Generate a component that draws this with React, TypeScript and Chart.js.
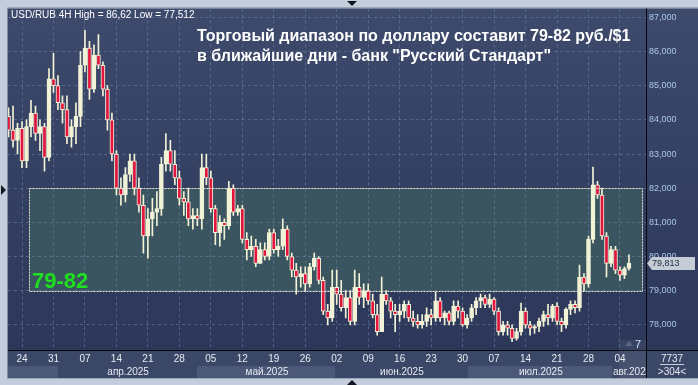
import React, { useEffect, useRef } from 'react';
import { Chart, registerables } from 'chart.js';

Chart.register(...registerables);

// ---- data (one candle per calendar day, day 0 = 24 Mar 2025) ----
const START_DAY = -3;
const OPEN = [
  84.1, 83.7, 83.4, 83.75, 82.8, 83.8, 84.2, 83.6, 83.8, 82.9,
  85.2, 85.0, 84.5, 84.3, 83.5, 83.8, 84.1, 85.6, 86.1, 84.9,
  85.9, 85.6, 84.9, 84.0, 83.0, 82.0, 81.8, 82.4, 82.8, 82.0,
  81.5, 80.6, 81.1, 81.3, 81.4, 82.7, 83.1, 82.7, 82.3, 81.7,
  81.6, 81.1, 81.2, 81.1, 82.6, 82.3, 81.4, 80.7, 81.0, 80.9,
  82.0, 81.3, 81.4, 80.5, 80.2, 80.3, 79.8, 80.2, 80.0, 80.7,
  80.2, 80.3, 80.8, 80.0, 79.6, 79.4, 79.5, 79.2, 79.7, 79.95,
  79.3, 78.4, 78.2, 79.1, 78.9, 78.5, 78.8, 78.1, 79.1, 78.8,
  79.0, 78.7, 78.3, 77.8, 78.9, 78.7, 78.4, 78.3, 78.4, 78.6,
  78.2, 78.1, 78.0, 78.1, 78.3, 78.2, 78.7, 78.2, 78.35, 78.1,
  78.55, 78.4, 78.0, 78.2, 78.5, 78.7, 78.8, 78.6, 78.75, 78.4,
  77.8, 78.0, 77.9, 77.6, 77.8, 78.4, 78.0, 77.9, 77.95, 78.1,
  78.3, 78.2, 78.55, 78.1, 78.0, 78.45, 78.6, 78.5, 79.4, 79.2,
  80.5, 82.1, 81.8, 80.6, 79.8, 80.2, 79.6, 79.45, 79.65,
];
const HIGH = [
  84.35, 84.4, 83.9, 83.95, 84.0, 84.57, 84.4, 84.0, 83.9, 85.5,
  85.95, 85.3, 84.7, 84.7, 84.0, 84.5, 86.0, 86.62, 86.3, 86.2,
  86.5, 85.7, 85.0, 84.2, 83.1, 82.3, 82.6, 83.0, 83.0, 82.3,
  81.8, 81.4, 81.7, 81.9, 82.9, 83.6, 83.4, 83.1, 82.5, 81.9,
  82.0, 81.4, 81.4, 83.0, 83.0, 82.5, 81.5, 81.2, 81.1, 82.2,
  82.1, 81.5, 81.5, 80.7, 80.6, 80.5, 80.4, 80.4, 80.8, 80.8,
  80.5, 81.1, 80.9, 80.1, 79.8, 79.7, 79.7, 79.8, 80.1, 80.0,
  79.4, 78.6, 79.6, 79.6, 79.3, 79.0, 79.0, 79.6, 79.5, 79.2,
  79.2, 78.9, 78.6, 79.4, 79.0, 78.8, 78.6, 78.6, 78.7, 78.7,
  78.4, 78.3, 78.3, 78.5, 78.45, 78.96, 78.8, 78.4, 78.4, 78.7,
  78.7, 78.5, 78.3, 78.6, 78.8, 78.9, 78.87, 78.9, 78.8, 78.5,
  78.1, 78.1, 78.0, 77.9, 78.64, 78.5, 78.1, 78.0, 78.2, 78.4,
  78.6, 78.6, 78.65, 78.2, 78.5, 78.7, 78.7, 79.75, 79.5, 80.6,
  82.62, 82.2, 82.0, 80.7, 80.3, 80.3, 79.7, 79.7, 80.05,
];
const LOW = [
  83.5, 83.2, 83.0, 82.6, 82.6, 83.5, 83.4, 83.1, 82.5, 82.8,
  84.8, 84.3, 83.9, 83.3, 83.2, 83.3, 83.8, 85.4, 84.6, 84.8,
  85.5, 84.7, 83.7, 82.8, 81.8, 81.5, 81.6, 82.2, 81.8, 81.3,
  80.1, 79.95, 80.6, 80.9, 81.2, 82.5, 82.5, 82.1, 81.5, 81.2,
  80.9, 80.8, 80.9, 80.8, 82.1, 81.3, 80.35, 80.3, 80.5, 80.8,
  81.2, 81.2, 80.4, 79.9, 80.0, 79.7, 79.8, 79.9, 79.9, 80.1,
  80.0, 80.2, 79.9, 79.4, 78.9, 79.1, 79.0, 79.1, 79.6, 79.2,
  78.3, 78.0, 78.1, 78.6, 78.4, 78.2, 78.0, 78.0, 78.6, 78.5,
  78.6, 78.2, 77.7, 77.8, 78.6, 78.2, 77.8, 78.1, 78.2, 78.1,
  77.95, 77.9, 77.9, 77.95, 78.0, 78.1, 78.1, 78.0, 78.0, 78.0,
  78.2, 77.95, 77.9, 78.1, 78.3, 78.5, 78.5, 78.5, 78.3, 77.7,
  77.7, 77.7, 77.51, 77.55, 77.7, 77.9, 77.7, 77.75, 77.8, 77.95,
  78.0, 78.1, 78.0, 77.8, 77.9, 78.3, 78.35, 78.4, 79.0, 79.1,
  80.4, 81.7, 80.5, 79.4, 79.7, 79.5, 79.3, 79.35, 79.6,
];
const CLOSE = [
  83.7, 83.4, 83.75, 82.8, 83.8, 84.2, 83.6, 83.8, 82.9, 85.2,
  85.0, 84.5, 84.3, 83.5, 83.8, 84.1, 85.6, 86.1, 84.9, 85.9,
  85.6, 84.9, 84.0, 83.0, 82.0, 81.8, 82.4, 82.8, 82.0, 81.5,
  80.6, 81.1, 81.3, 81.4, 82.7, 83.1, 82.7, 82.3, 81.7, 81.6,
  81.1, 81.2, 81.1, 82.6, 82.3, 81.4, 80.7, 81.0, 80.9, 82.0,
  81.3, 81.4, 80.5, 80.2, 80.3, 79.8, 80.2, 80.0, 80.7, 80.2,
  80.3, 80.8, 80.0, 79.6, 79.4, 79.5, 79.2, 79.7, 79.95, 79.3,
  78.4, 78.2, 79.1, 78.9, 78.5, 78.8, 78.1, 79.1, 78.8, 79.0,
  78.7, 78.3, 77.8, 78.9, 78.7, 78.4, 78.3, 78.4, 78.6, 78.2,
  78.1, 78.0, 78.1, 78.3, 78.2, 78.7, 78.2, 78.35, 78.1, 78.55,
  78.4, 78.0, 78.2, 78.5, 78.7, 78.8, 78.6, 78.75, 78.4, 77.8,
  78.0, 77.9, 77.6, 77.8, 78.4, 78.0, 77.9, 77.95, 78.1, 78.3,
  78.2, 78.55, 78.1, 78.0, 78.45, 78.6, 78.5, 79.4, 79.2, 80.5,
  82.1, 81.8, 80.6, 79.8, 80.2, 79.6, 79.45, 79.65, 79.81,
];

const WEEK_DAYS = [0, 7, 14, 21, 28, 35, 42, 49, 56, 63, 70, 77, 84, 91, 98, 105, 112, 119, 126, 133];
const WEEK_LABELS = ['24', '31', '07', '14', '21', '28', '05', '12', '19', '26', '02', '09', '16', '23', '30', '07', '14', '21', '28', '04'];
const MONTH_BOUNDS = [-3.2, 8, 38.9, 69.6, 99.2, 131.2, 139];
const MONTH_LABEL_DAYS = [23.6, 54.5, 84.5, 115.4, 135.7];
const MONTH_LABELS = ['апр.2025', 'май.2025', 'июн.2025', 'июл.2025', 'авг.2025'];
const Y_TICKS = [78, 79, 80, 81, 82, 83, 84, 85, 86, 87];

const X_MIN = -3.114;
const X_MAX = 138.79;
const Y_MIN = 77.263;
const Y_MAX = 87.263;

const RANGE_LOW = 79;
const RANGE_HIGH = 82;
const RANGE_FROM = 1.56;
const RANGE_TO = 137.9;
const LAST_PRICE = 79.813;

const INFO_TEXT = 'USD/RUB 4H High = 86,62 Low = 77,512';
const TITLE_1 = 'Торговый диапазон по доллару составит 79-82 руб./$1';
const TITLE_2 = 'в ближайшие дни - банк "Русский Стандарт"';
const RANGE_TEXT = '79-82';
const CELL_TOP = '7737';
const CELL_BOTTOM = '>304<';

const FONT = "'Liberation Sans', Arial, sans-serif";
const CREAM = '#f2f2d6';
const RED = '#e3143f';
const FRAME = '#c3cddb';
const PANEL = '#3b4766';
const GRID = 'rgba(112,132,172,0.55)';

export default function App() {
  const ref = useRef<HTMLCanvasElement>(null);

  useEffect(() => {
    document.body.style.margin = '0';
    const canvas = ref.current!;
    const candles = OPEN.map((o, i) => ({ x: START_DAY + i, o, h: HIGH[i], l: LOW[i], c: CLOSE[i] }));
    const wickData = candles.map((k) => ({ x: k.x, y: [k.l, k.h] }));
    const bodyData = candles.map((k) => ({ x: k.x, y: [k.o, k.c] }));
    const bodyColors = candles.map((k) => (k.c < k.o ? RED : CREAM));

    const boxRect = (chart: any) => {
      const xs = chart.scales.x;
      const ys = chart.scales.y;
      const l = Math.round(xs.getPixelForValue(RANGE_FROM)) + 0.5;
      const r = Math.round(xs.getPixelForValue(RANGE_TO)) + 0.5;
      const t = Math.round(ys.getPixelForValue(RANGE_HIGH)) + 0.5;
      const b = Math.round(ys.getPixelForValue(RANGE_LOW)) + 0.5;
      return { l, r, t, b };
    };

    const deco = {
      id: 'deco',
      beforeDraw(chart: any) {
        const { ctx, chartArea: a, width, height } = chart;
        const x2 = chart.scales.x2;
        ctx.save();
        ctx.fillStyle = FRAME;
        ctx.fillRect(0, 0, width, height);
        const g = ctx.createLinearGradient(0, a.top, 0, a.bottom);
        g.addColorStop(0, '#3d4a6b');
        g.addColorStop(1, '#2c375a');
        ctx.fillStyle = g;
        ctx.fillRect(a.left, a.top, width - a.left, a.bottom - a.top);
        ctx.fillStyle = PANEL;
        ctx.fillRect(a.left, a.bottom, width - a.left, x2.bottom - a.bottom);
        for (let i = 0; i < MONTH_BOUNDS.length - 1; i++) {
          const l = Math.max(a.left, Math.round(x2.getPixelForValue(MONTH_BOUNDS[i])));
          const r = Math.min(a.right, Math.round(x2.getPixelForValue(MONTH_BOUNDS[i + 1])));
          ctx.fillStyle = i % 2 === 0 ? '#4b5877' : PANEL;
          ctx.fillRect(l, x2.top + 1, r - l, x2.bottom - x2.top - 1);
        }
        const bx = boxRect(chart);
        ctx.fillStyle = '#3a5560';
        ctx.fillRect(bx.l, bx.t, bx.r - bx.l, bx.b - bx.t);
        ctx.restore();
      },
      afterDatasetsDraw(chart: any) {
        const { ctx } = chart;
        const bx = boxRect(chart);
        ctx.save();
        ctx.strokeStyle = '#e8e8d2';
        ctx.lineWidth = 1;
        ctx.setLineDash([2, 1]);
        ctx.strokeRect(bx.l, bx.t, bx.r - bx.l, bx.b - bx.t);
        ctx.restore();
      },
      afterDraw(chart: any) {
        const { ctx, chartArea: a, width } = chart;
        const ys = chart.scales.y;
        const x2 = chart.scales.x2;
        ctx.save();
        // bottom-right cell
        ctx.fillStyle = PANEL;
        ctx.fillRect(a.right + 1, a.bottom, width - a.right, x2.bottom - a.bottom);
        ctx.strokeStyle = '#05070d';
        ctx.lineWidth = 1;
        ctx.beginPath();
        ctx.moveTo(a.right + 0.5, a.top);
        ctx.lineTo(a.right + 0.5, x2.bottom);
        ctx.moveTo(a.left, a.bottom + 0.5);
        ctx.lineTo(width, a.bottom + 0.5);
        ctx.stroke();
        ctx.fillStyle = '#e4e8f0';
        ctx.font = `10px ${FONT}`;
        ctx.textAlign = 'center';
        ctx.textBaseline = 'alphabetic';
        const cx = (a.right + width) / 2;
        ctx.fillText(CELL_TOP, cx, a.bottom + 12);
        ctx.fillText(CELL_BOTTOM, cx, a.bottom + 25);
        ctx.strokeStyle = '#c8cedb';
        ctx.beginPath();
        ctx.moveTo(cx - 12, a.bottom + 14.5);
        ctx.lineTo(cx + 12, a.bottom + 14.5);
        ctx.stroke();

        // frame lines
        ctx.strokeStyle = '#7f8ca3';
        ctx.beginPath();
        ctx.moveTo(a.left - 0.5, x2.bottom);
        ctx.lineTo(a.left - 0.5, a.top - 0.5);
        ctx.lineTo(width, a.top - 0.5);
        ctx.stroke();
        ctx.strokeStyle = '#9aa6b9';
        ctx.beginPath();
        ctx.moveTo(a.left - 1, x2.bottom + 0.5);
        ctx.lineTo(width, x2.bottom + 0.5);
        ctx.stroke();

        // frame markers
        ctx.fillStyle = '#111622';
        const tri = (pts: number[][]) => {
          ctx.beginPath();
          ctx.moveTo(pts[0][0], pts[0][1]);
          for (let i = 1; i < pts.length; i++) ctx.lineTo(pts[i][0], pts[i][1]);
          ctx.closePath();
          ctx.fill();
        };
        tri([[347, 1], [357, 1], [352, 6]]);
        tri([[1, 185], [1, 195], [6, 190]]);
        tri([[347, 385], [357, 385], [352, 380]]);

        // price tag
        const py = Math.round(ys.getPixelForValue(LAST_PRICE)) + 0.5;
        ctx.fillStyle = '#c6ccd6';
        ctx.beginPath();
        ctx.moveTo(a.right + 1, py);
        ctx.lineTo(a.right + 6, py - 6.5);
        ctx.lineTo(width - 3, py - 6.5);
        ctx.lineTo(width - 3, py + 6.5);
        ctx.lineTo(a.right + 6, py + 6.5);
        ctx.closePath();
        ctx.fill();
        ctx.fillStyle = '#1e2a44';
        ctx.font = `9px ${FONT}`;
        ctx.textAlign = 'left';
        ctx.textBaseline = 'middle';
        ctx.fillText(LAST_PRICE.toFixed(3).replace('.', ','), a.right + 6, py + 0.5);

        // texts
        ctx.textBaseline = 'alphabetic';
        ctx.fillStyle = '#ffffff';
        ctx.font = `10px ${FONT}`;
        ctx.fillText(INFO_TEXT, a.left + 3, 18);
        ctx.font = `bold 16px ${FONT}`;
        ctx.fillText(TITLE_1, 197, 41);
        ctx.fillText(TITLE_2, 197, 61);
        ctx.fillStyle = '#1fe01f';
        ctx.font = `bold 22px ${FONT}`;
        ctx.fillText(RANGE_TEXT, 32, 288);

        // current bar marker
        ctx.fillStyle = 'rgba(255,255,255,0.06)';
        ctx.fillRect(619, a.bottom - 10, a.right - 619, x2.bottom - a.bottom + 10);
        ctx.fillStyle = '#5a6580';
        tri([[625, 346], [633, 346], [629, 341]]);
        ctx.fillStyle = '#cfe0ff';
        ctx.font = `11px ${FONT}`;
        ctx.fillText('7', 635, 348);
        ctx.restore();
      },
    };

    const chart = new Chart(canvas, {
      type: 'bar',
      data: {
        datasets: [
          {
            data: wickData as any,
            backgroundColor: CREAM,
            barThickness: 1,
            grouped: false,
            order: 2,
          },
          {
            data: bodyData as any,
            backgroundColor: bodyColors,
            borderColor: CREAM,
            borderWidth: 1,
            borderSkipped: false,
            barThickness: 4,
            minBarLength: 1,
            grouped: false,
            order: 1,
          },
        ],
      },
      options: {
        responsive: false,
        animation: false,
        layout: { padding: { left: 8, top: 8, right: 0, bottom: 7 } },
        plugins: { legend: { display: false }, tooltip: { enabled: false } },
        scales: {
          x: {
            type: 'linear',
            position: 'bottom',
            offset: false,
            min: X_MIN,
            max: X_MAX,
            weight: 0,
            afterBuildTicks: (s: any) => {
              s.ticks = WEEK_DAYS.map((v) => ({ value: v }));
            },
            afterFit: (s: any) => {
              s.height = 15;
            },
            ticks: {
              autoSkip: false,
              maxRotation: 0,
              padding: 3,
              color: '#e6eaf2',
              font: { size: 10, family: FONT },
              callback: (_v: any, i: number) => WEEK_LABELS[i],
            },
            grid: { color: GRID, drawTicks: false, offset: false },
            border: { display: true, color: '#05070d', width: 1, dash: [3, 3] },
          },
          x2: {
            type: 'linear',
            position: 'bottom',
            offset: false,
            min: X_MIN,
            max: X_MAX,
            weight: 1,
            afterBuildTicks: (s: any) => {
              s.ticks = MONTH_LABEL_DAYS.map((v) => ({ value: v }));
            },
            afterFit: (s: any) => {
              s.height = 13;
            },
            ticks: {
              autoSkip: false,
              maxRotation: 0,
              padding: 1,
              color: '#e6eaf2',
              font: { size: 10, family: FONT },
              callback: (_v: any, i: number) => MONTH_LABELS[i],
            },
            grid: { display: false, drawTicks: false, offset: false },
            border: { display: false },
          },
          y: {
            type: 'linear',
            position: 'right',
            min: Y_MIN,
            max: Y_MAX,
            afterBuildTicks: (s: any) => {
              s.ticks = Y_TICKS.map((v) => ({ value: v }));
            },
            afterFit: (s: any) => {
              s.width = 52;
            },
            ticks: {
              padding: 3,
              color: '#a9c6ec',
              font: { size: 9, family: FONT },
              callback: (v: any) => Number(v).toFixed(3).replace('.', ','),
            },
            grid: { color: GRID, drawTicks: false },
            border: { display: true, color: '#05070d', width: 1, dash: [3, 3] },
          },
        },
      } as any,
      plugins: [deco],
    });
    return () => chart.destroy();
  }, []);

  return <canvas ref={ref} width={698} height={385} style={{ display: 'block' }} />;
}
